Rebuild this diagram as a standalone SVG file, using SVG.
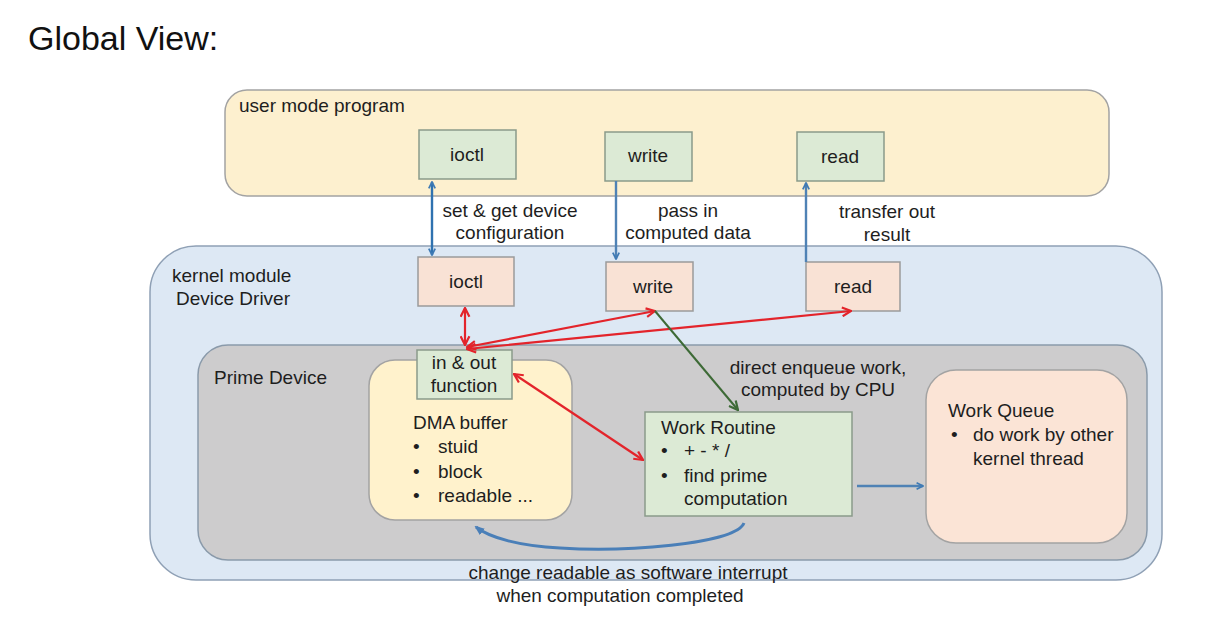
<svg xmlns="http://www.w3.org/2000/svg" width="1208" height="627" viewBox="0 0 1208 627">
<defs>
<style>
text{font-family:"Liberation Sans",Arial,sans-serif;font-size:19px;fill:#1e1e1e}
.c{text-anchor:middle}
.green{fill:#dcead5;stroke:#8a9a8a;stroke-width:1.5}
.peach{fill:#f9e2d5;stroke:#9a9a9a;stroke-width:1.5}
.blue{stroke:#3f7ab4;stroke-width:2.4;fill:none}
.red{stroke:#e3242b;stroke-width:2.2;fill:none}
</style>
<marker id="ab" viewBox="0 0 10 10" refX="9" refY="5" markerWidth="8" markerHeight="8" orient="auto-start-reverse" markerUnits="userSpaceOnUse">
<path d="M1,1 L9,5 L1,9" fill="none" stroke="#3f7ab4" stroke-width="2.2"/>
</marker>
<marker id="ar" viewBox="0 0 10 10" refX="9" refY="5" markerWidth="11" markerHeight="11" orient="auto-start-reverse" markerUnits="userSpaceOnUse">
<path d="M1,1 L9,5 L1,9" fill="none" stroke="#e3242b" stroke-width="2"/>
</marker>
<marker id="ag" viewBox="0 0 10 10" refX="9" refY="5" markerWidth="11" markerHeight="11" orient="auto" markerUnits="userSpaceOnUse">
<path d="M1,1 L9,5 L1,9" fill="none" stroke="#3d6a36" stroke-width="2"/>
</marker>
<marker id="ac" viewBox="0 0 10 10" refX="8" refY="5" markerWidth="10" markerHeight="10" orient="auto-start-reverse" markerUnits="userSpaceOnUse">
<path d="M0,1 L10,5 L0,9 Z" fill="#4a7fb8"/>
</marker>
</defs>
<rect width="1208" height="627" fill="#ffffff"/>
<text x="28" y="50" style="font-size:34px;fill:#111">Global View:</text>

<g id="user-mode">
<rect x="225" y="90" width="884" height="106" rx="22" fill="#fdf0cf" stroke="#a3a3a3" stroke-width="1.5"/>
<text x="239" y="112">user mode program</text>
</g>
<g id="kernel-module">
<rect x="150" y="246" width="1012" height="334" rx="46" fill="#dde8f4" stroke="#8fa0b5" stroke-width="1.5"/>
<text x="172" y="282">kernel module</text>
<text x="176" y="305">Device Driver</text>
</g>
<g id="prime-device">
<rect x="198" y="345" width="949" height="215" rx="30" fill="#cdcccd" stroke="#8a9aaa" stroke-width="1.5"/>
<text x="214" y="384">Prime Device</text>
</g>

<g id="user-ioctl"><rect class="green" x="419" y="130" width="97" height="49"/><text class="c" x="467" y="161">ioctl</text></g>
<g id="user-write"><rect class="green" x="605" y="132" width="87" height="49"/><text class="c" x="648" y="162">write</text></g>
<g id="user-read"><rect class="green" x="797" y="132" width="87" height="49"/><text class="c" x="840" y="163">read</text></g>

<g id="k-ioctl"><rect class="peach" x="418" y="257" width="96" height="49"/><text class="c" x="466" y="288">ioctl</text></g>
<g id="k-write"><rect class="peach" x="606" y="262" width="87" height="49"/><text class="c" x="653" y="293">write</text></g>
<g id="k-read"><rect class="peach" x="806" y="262" width="94" height="49"/><text class="c" x="853" y="293">read</text></g>

<g id="dma-buffer">
<rect x="369" y="360" width="203" height="160" rx="26" fill="#fff2cc" stroke="#a3a3a3" stroke-width="1.5"/>
<text x="413" y="429">DMA buffer</text>
<text x="413" y="453">•</text><text x="438" y="453">stuid</text>
<text x="413" y="478">•</text><text x="438" y="478">block</text>
<text x="413" y="502">•</text><text x="438" y="502">readable ...</text>
</g>
<g id="in-out">
<rect class="green" x="417" y="350" width="95" height="49"/>
<text class="c" x="464" y="369">in &amp; out</text>
<text class="c" x="464" y="392">function</text>
</g>
<g id="work-routine">
<rect class="green" x="645" y="412" width="207" height="104"/>
<text x="661" y="434">Work Routine</text>
<text x="661" y="457">•</text><text x="684" y="457">+ - * /</text>
<text x="661" y="482">•</text><text x="684" y="482">find prime</text>
<text x="684" y="505">computation</text>
</g>
<g id="work-queue">
<rect x="926" y="370" width="201" height="173" rx="30" fill="#fbe4d6" stroke="#a3a3a3" stroke-width="1.5"/>
<text x="948" y="417">Work Queue</text>
<text x="951" y="441">•</text><text x="973" y="441">do work by other</text>
<text x="973" y="465">kernel thread</text>
</g>

<g id="connectors">
<line class="blue" x1="432" y1="182" x2="432" y2="255" marker-start="url(#ab)" marker-end="url(#ab)" style="stroke:#2f72b0"/>
<line class="blue" x1="616" y1="181" x2="616" y2="259" marker-end="url(#ab)" style="stroke:#4f82b5"/>
<line class="blue" x1="806" y1="262" x2="806" y2="183" marker-end="url(#ab)" style="stroke:#4f82b5"/>
<line class="red" x1="465" y1="308" x2="465" y2="345" marker-start="url(#ar)" marker-end="url(#ar)"/>
<line class="red" x1="467" y1="347" x2="655" y2="311" marker-start="url(#ar)" marker-end="url(#ar)"/>
<line class="red" x1="467" y1="349" x2="851" y2="311" marker-start="url(#ar)" marker-end="url(#ar)"/>
<line class="red" x1="514" y1="374" x2="643" y2="460" marker-start="url(#ar)" marker-end="url(#ar)"/>
<line x1="655" y1="311" x2="738" y2="410" stroke="#3d6a36" stroke-width="2" marker-end="url(#ag)"/>
<line class="blue" x1="857" y1="486" x2="923" y2="486" marker-end="url(#ab)" style="stroke:#4f82b5"/>
<path d="M744,523 C735,545 620,552 560,548 C520,546 490,538 476,527" fill="none" stroke="#4a7fb8" stroke-width="3" marker-end="url(#ac)"/>
<text class="c" x="510" y="217">set &amp; get device</text>
<text class="c" x="510" y="239">configuration</text>
<text class="c" x="688" y="217">pass in</text>
<text class="c" x="688" y="239">computed data</text>
<text class="c" x="887" y="218">transfer out</text>
<text class="c" x="887" y="241">result</text>
<text class="c" x="818" y="374">direct enqueue work,</text>
<text class="c" x="818" y="396">computed by CPU</text>
<text class="c" x="628" y="579">change readable as software interrupt</text>
<text class="c" x="620" y="602">when computation completed</text>
</g>
</svg>
